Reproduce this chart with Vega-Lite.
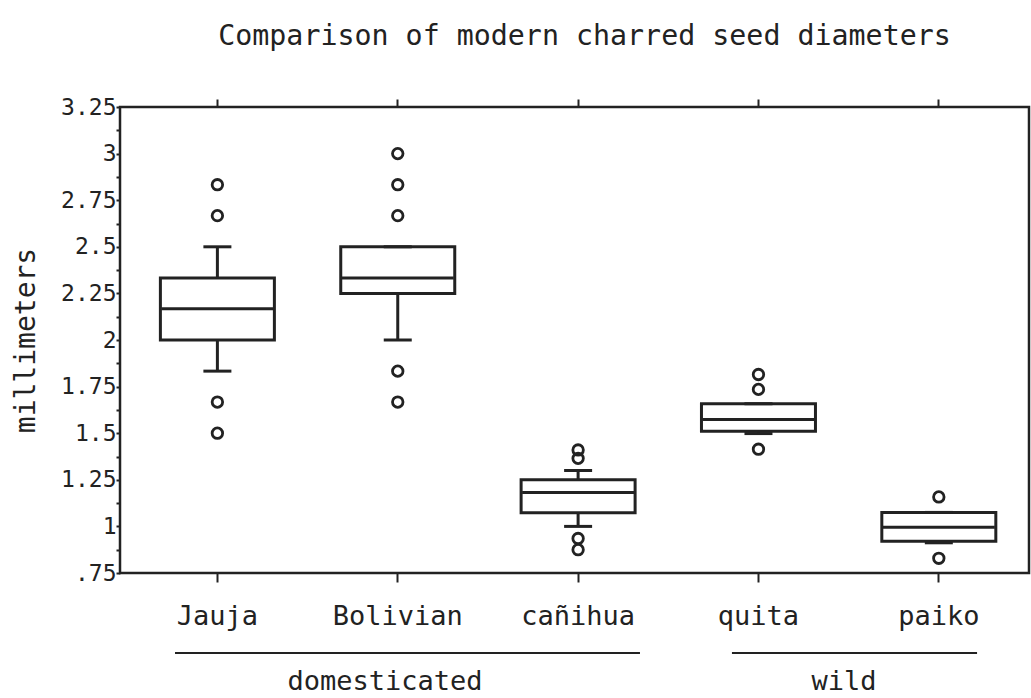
{
  "$schema": "https://vega.github.io/schema/vega-lite/v6.json",
  "width": 909,
  "height": 466,
  "autosize": "none",
  "padding": {"left": 120, "top": 107, "right": 2, "bottom": 125},
  "background": "white",
  "title": {
    "text": "Comparison of modern charred seed diameters",
    "font": "DejaVu Sans Mono",
    "fontSize": 28.3,
    "fontWeight": "normal",
    "color": "#222",
    "anchor": "middle",
    "baseline": "alphabetic",
    "dx": 10,
    "offset": 23
  },
  "datasets": {
    "boxes": [
      {"cat": "Jauja", "lower": 1.833, "q1": 2.0, "median": 2.167, "q3": 2.333, "upper": 2.5},
      {"cat": "Bolivian", "lower": 2.0, "q1": 2.25, "median": 2.333, "q3": 2.5, "upper": 2.5},
      {"cat": "cañihua", "lower": 1.0, "q1": 1.073, "median": 1.182, "q3": 1.25, "upper": 1.3},
      {"cat": "quita", "lower": 1.498, "q1": 1.51, "median": 1.573, "q3": 1.658, "upper": 1.658},
      {"cat": "paiko", "lower": 0.912, "q1": 0.921, "median": 0.995, "q3": 1.075, "upper": 1.075}
    ],
    "outliers": [
      {"cat": "Jauja", "value": 2.833},
      {"cat": "Jauja", "value": 2.667},
      {"cat": "Jauja", "value": 1.667},
      {"cat": "Jauja", "value": 1.5},
      {"cat": "Bolivian", "value": 3.0},
      {"cat": "Bolivian", "value": 2.833},
      {"cat": "Bolivian", "value": 2.667},
      {"cat": "Bolivian", "value": 1.833},
      {"cat": "Bolivian", "value": 1.667},
      {"cat": "cañihua", "value": 1.41},
      {"cat": "cañihua", "value": 1.365},
      {"cat": "cañihua", "value": 0.935},
      {"cat": "cañihua", "value": 0.875},
      {"cat": "quita", "value": 1.815},
      {"cat": "quita", "value": 1.735},
      {"cat": "quita", "value": 1.414},
      {"cat": "paiko", "value": 1.158},
      {"cat": "paiko", "value": 0.829}
    ],
    "groups": [
      {"group": "domesticated", "start": "Jauja", "end": "cañihua", "mid": "Bolivian"},
      {"group": "wild", "start": "quita", "end": "paiko", "mid": "quita"}
    ]
  },
  "resolve": {"axis": {"x": "independent", "y": "independent"}},
  "layer": [
    {
      "data": {"name": "boxes"},
      "mark": {"type": "rule", "stroke": "#222", "strokeWidth": 3},
      "encoding": {
        "x": {
          "field": "cat", "type": "nominal", "sort": null,
          "scale": {"type": "band", "paddingInner": 0, "paddingOuter": 0.02, "align": 1},
          "axis": {
            "orient": "bottom", "title": null, "domain": false,
            "tickSize": 9, "tickWidth": 2, "tickColor": "#222",
            "labelAngle": 0, "labelFont": "DejaVu Sans Mono", "labelFontSize": 27,
            "labelColor": "#222", "labelBaseline": "alphabetic", "labelPadding": 42
          }
        },
        "y": {
          "field": "lower", "type": "quantitative",
          "scale": {"domain": [0.75, 3.25], "zero": false, "nice": false},
          "axis": {
            "orient": "left",
            "title": "millimeters", "titleFont": "DejaVu Sans Mono", "titleFontSize": 28,
            "titleFontWeight": "normal", "titleColor": "#222", "titlePadding": 20,
            "domain": false, "grid": false,
            "values": [0.75, 0.875, 1, 1.125, 1.25, 1.375, 1.5, 1.625, 1.75, 1.875, 2, 2.125, 2.25, 2.375, 2.5, 2.625, 2.75, 2.875, 3, 3.125, 3.25],
            "format": ".3~f",
            "labelExpr": "(datum.value * 4) % 1 == 0 ? replace(format(datum.value, '.2~f'), '0.', '.') : ''",
            "tickSize": 4, "tickWidth": 2, "tickColor": "#222",
            "labelFont": "DejaVu Sans Mono", "labelFontSize": 23, "labelColor": "#222",
            "labelPadding": 0
          }
        },
        "y2": {"field": "q1"}
      }
    },
    {
      "data": {"name": "boxes"},
      "mark": {"type": "rule", "stroke": "#222", "strokeWidth": 3},
      "encoding": {
        "x": {
          "field": "cat", "type": "nominal", "sort": null,
          "axis": {
            "orient": "top", "title": null, "domain": false, "labels": false,
            "tickSize": 8, "tickWidth": 2, "tickColor": "#222"
          }
        },
        "y": {"field": "q3", "type": "quantitative", "axis": null},
        "y2": {"field": "upper"}
      }
    },
    {
      "data": {"name": "boxes"},
      "mark": {"type": "bar", "size": 114, "fill": "white", "stroke": "#222", "strokeWidth": 3, "opacity": 1},
      "encoding": {
        "x": {"field": "cat", "type": "nominal", "sort": null, "axis": null},
        "y": {"field": "q1", "type": "quantitative", "axis": null},
        "y2": {"field": "q3"}
      }
    },
    {
      "data": {"name": "boxes"},
      "mark": {"type": "tick", "size": 112, "thickness": 3, "color": "#222", "opacity": 1},
      "encoding": {
        "x": {"field": "cat", "type": "nominal", "sort": null, "axis": null},
        "y": {"field": "median", "type": "quantitative", "axis": null}
      }
    },
    {
      "data": {"name": "boxes"},
      "mark": {"type": "tick", "size": 28, "thickness": 3, "color": "#222", "opacity": 1},
      "encoding": {
        "x": {"field": "cat", "type": "nominal", "sort": null, "axis": null},
        "y": {"field": "lower", "type": "quantitative", "axis": null}
      }
    },
    {
      "data": {"name": "boxes"},
      "mark": {"type": "tick", "size": 28, "thickness": 3, "color": "#222", "opacity": 1},
      "encoding": {
        "x": {"field": "cat", "type": "nominal", "sort": null, "axis": null},
        "y": {"field": "upper", "type": "quantitative", "axis": null}
      }
    },
    {
      "data": {"name": "outliers"},
      "mark": {"type": "point", "shape": "circle", "filled": false, "size": 110, "stroke": "#222", "strokeWidth": 2.8, "opacity": 1},
      "encoding": {
        "x": {"field": "cat", "type": "nominal", "sort": null, "axis": null},
        "y": {"field": "value", "type": "quantitative", "axis": null}
      }
    },
    {
      "data": {"name": "groups"},
      "transform": [{"filter": "datum.group == 'domesticated'"}],
      "mark": {"type": "rule", "stroke": "#222", "strokeWidth": 2},
      "encoding": {
        "x": {"field": "start", "type": "nominal", "sort": null, "bandPosition": 0.265, "axis": null},
        "x2": {"field": "end", "bandPosition": 0.843},
        "y": {"datum": 0.321, "type": "quantitative", "axis": null}
      }
    },
    {
      "data": {"name": "groups"},
      "transform": [{"filter": "datum.group == 'wild'"}],
      "mark": {"type": "rule", "stroke": "#222", "strokeWidth": 2},
      "encoding": {
        "x": {"field": "start", "type": "nominal", "sort": null, "bandPosition": 0.353, "axis": null},
        "x2": {"field": "end", "bandPosition": 0.712},
        "y": {"datum": 0.321, "type": "quantitative", "axis": null}
      }
    },
    {
      "data": {"name": "groups"},
      "transform": [{"filter": "datum.group == 'domesticated'"}],
      "mark": {"type": "text", "font": "DejaVu Sans Mono", "fontSize": 27, "color": "#222", "baseline": "alphabetic", "align": "center"},
      "encoding": {
        "x": {"field": "mid", "type": "nominal", "sort": null, "bandPosition": 0.429, "axis": null},
        "y": {"datum": 0.122, "type": "quantitative", "axis": null},
        "text": {"field": "group"}
      }
    },
    {
      "data": {"name": "groups"},
      "transform": [{"filter": "datum.group == 'wild'"}],
      "mark": {"type": "text", "font": "DejaVu Sans Mono", "fontSize": 27, "color": "#222", "baseline": "alphabetic", "align": "center"},
      "encoding": {
        "x": {"field": "mid", "type": "nominal", "sort": null, "bandPosition": 0.974, "axis": null},
        "y": {"datum": 0.122, "type": "quantitative", "axis": null},
        "text": {"field": "group"}
      }
    }
  ],
  "config": {
    "view": {"stroke": "#222", "strokeWidth": 2.5},
    "axis": {"grid": false}
  }
}
